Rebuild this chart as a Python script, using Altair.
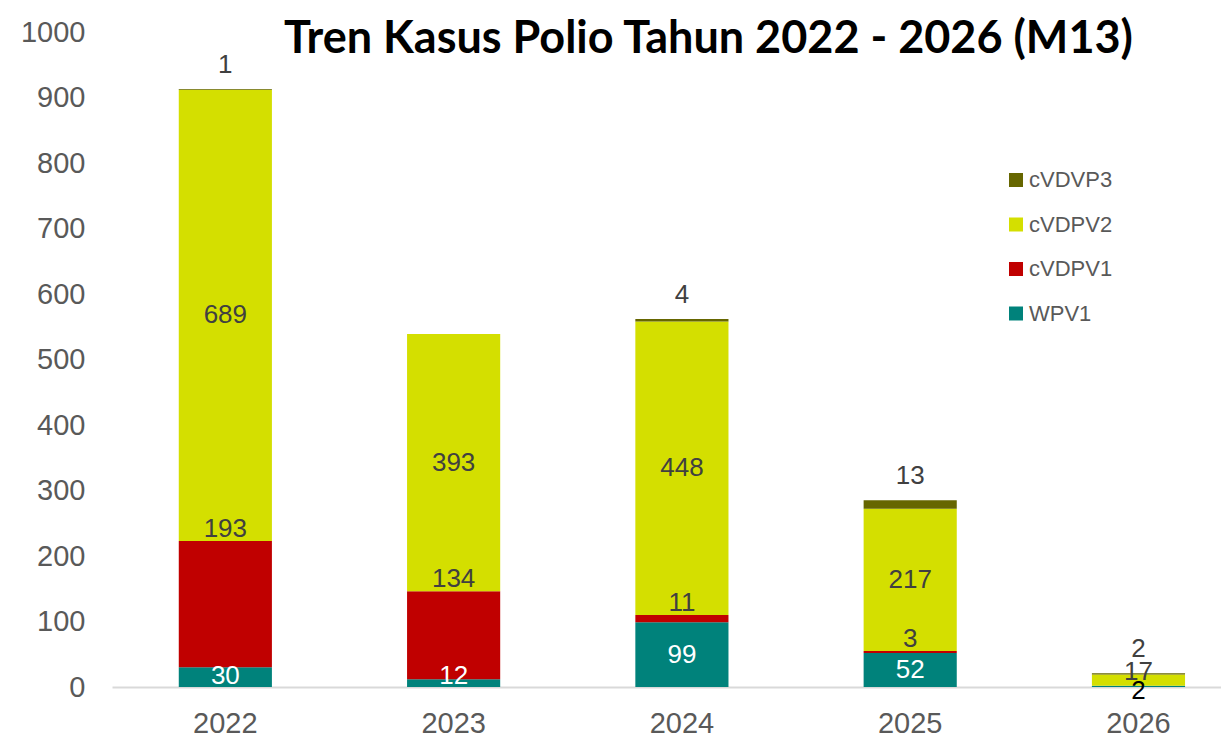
import altair as alt
import pandas as pd

years = ["2022", "2023", "2024", "2025", "2026"]
series_names = ["WPV1", "cVDPV1", "cVDPV2", "cVDVP3"]
wpv1 = [30, 12, 99, 52, 2]
cvdpv1 = [193, 134, 11, 3, 0]
cvdpv2 = [689, 393, 448, 217, 17]
cvdvp3 = [1, 0, 4, 13, 2]
colors = ["#00827B", "#C00000", "#D4DF00", "#666600"]
y_ticks = list(range(0, 1001, 100))
title_text = "Tren Kasus Polio Tahun 2022 - 2026 (M13)"

rows = []
for si, (name, vals) in enumerate(zip(series_names, [wpv1, cvdpv1, cvdpv2, cvdvp3])):
    for yr, v in zip(years, vals):
        rows.append({"year": yr, "series": name, "value": v, "order": si})
df = pd.DataFrame(rows)

x_enc = alt.X(
    "year:N",
    sort=years,
    scale=alt.Scale(paddingInner=0.592, paddingOuter=0.225, align=0.65),
    axis=alt.Axis(title=None, labelAngle=0),
)

base = (
    alt.Chart(df)
    .transform_stack(
        stack="value",
        groupby=["year"],
        sort=[alt.SortField("order", order="ascending")],
        as_=["y0", "y1"],
    )
    .transform_calculate(mid="(datum.y0 + datum.y1) / 2")
)

y_scale = alt.Scale(domain=[0, 1000], nice=False, zero=True)

bars = base.mark_bar().encode(
    x=x_enc,
    y=alt.Y("y0:Q", scale=y_scale, axis=alt.Axis(title=None, values=y_ticks, format="d")),
    y2="y1:Q",
    color=alt.Color(
        "series:N",
        scale=alt.Scale(domain=series_names, range=colors),
        sort=list(reversed(series_names)),
        legend=alt.Legend(
            title=None,
            orient="none",
            legendX=893,
            legendY=137,
            symbolType="square",
            symbolSize=196,
            symbolStrokeWidth=0,
            labelFont="Liberation Sans",
            labelFontSize=22,
            labelColor="#595959",
            labelOffset=2,
            rowPadding=22.5,
            values=list(reversed(series_names)),
        ),
    ),
)

txt_common = dict(font="Liberation Sans", fontSize=26)

lab_wpv1 = (
    base.transform_filter("datum.series == 'WPV1' && datum.value > 0")
    .transform_calculate(ly="datum.value < 10 ? -6 : max(datum.mid, 17)")
    .mark_text(baseline="middle", **txt_common)
    .encode(
        x=x_enc,
        y=alt.Y("ly:Q", scale=y_scale),
        text="value:Q",
        color=alt.condition("datum.value < 10", alt.value("#000000"), alt.value("#FFFFFF")),
    )
)

lab_v1 = base.transform_filter("datum.series == 'cVDPV1' && datum.value > 0").mark_text(
    baseline="alphabetic", dy=-4, color="#404040", **txt_common
).encode(x=x_enc, y=alt.Y("y1:Q", scale=y_scale), text="value:Q")

lab_v2 = (
    base.transform_filter("datum.series == 'cVDPV2' && datum.value > 0")
    .transform_calculate(ly="datum.value < 50 ? datum.y1 + 4 : datum.mid")
    .mark_text(baseline="middle", color="#404040", **txt_common)
    .encode(x=x_enc, y=alt.Y("ly:Q", scale=y_scale), text="value:Q")
)

lab_v3 = base.transform_filter("datum.series == 'cVDVP3' && datum.value > 0").mark_text(
    baseline="alphabetic", dy=-16, color="#404040", **txt_common
).encode(x=x_enc, y=alt.Y("y1:Q", scale=y_scale), text="value:Q")

chart = (
    alt.layer(bars, lab_wpv1, lab_v1, lab_v2, lab_v3)
    .properties(
        width=1109,
        height=655,
        padding={"left": 12, "top": 9, "right": 0, "bottom": 0},
        title=alt.TitleParams(
            title_text,
            font="Lato",
            fontSize=45,
            fontWeight="bold",
            color="#000000",
            anchor="middle",
            dx=42,
            dy=48,
        ),
    )
    .configure_view(stroke=None)
    .configure_axisY(
        domain=False,
        ticks=False,
        grid=False,
        labelFont="Liberation Sans",
        labelFontSize=29,
        labelColor="#595959",
        labelPadding=27,
    )
    .configure_axisX(
        domain=True,
        domainColor="#D9D9D9",
        domainWidth=2,
        ticks=False,
        grid=False,
        labelFont="Liberation Sans",
        labelFontSize=29,
        labelColor="#595959",
        labelPadding=22,
    )
)

chart.save("out.html", embed_options={"renderer": "svg", "actions": False})
